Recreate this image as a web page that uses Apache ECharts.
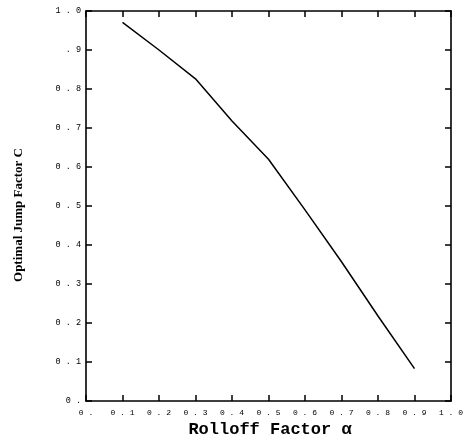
<!DOCTYPE html>
<html>
<head>
<meta charset="utf-8">
<script src="https://cdn.jsdelivr.net/npm/echarts@6/dist/echarts.min.js"></script>
<style>html,body{margin:0;padding:0;background:#fff;}#c{width:466px;height:440px;}</style>
</head>
<body>
<div id="c"></div>
<script>
var rolloff = [0.1, 0.2, 0.3, 0.4, 0.5, 0.6, 0.7, 0.8, 0.9];
var jumpFactor = [0.971, 0.900, 0.826, 0.718, 0.620, 0.490, 0.357, 0.218, 0.083];
var xTickLabels = ['0 .', '0 . 1', '0 . 2', '0 . 3', '0 . 4', '0 . 5', '0 . 6', '0 . 7', '0 . 8', '0 . 9', '1 . 0'];
var yTickLabels = ['0 .', '0 . 1', '0 . 2', '0 . 3', '0 . 4', '0 . 5', '0 . 6', '0 . 7', '0 . 8', '. 9', '1 . 0'];

var chart = echarts.init(document.getElementById('c'));
var axisLine = {show: true, onZero: false, lineStyle: {color: '#000', width: 1.6}};
var tick = {show: true, inside: true, length: 6, lineStyle: {color: '#000', width: 1.5}};
function idx(v){ return Math.round(v * 10); }
chart.setOption({
  animation: false,
  backgroundColor: '#fff',
  grid: {left: 86, right: 11, top: 11, bottom: 39},
  xAxis: [{
    type: 'value', min: 0, max: 1, interval: 0.1, position: 'bottom',
    axisLine: axisLine, axisTick: tick, splitLine: {show: false},
    axisLabel: {margin: 8, color: '#000', fontFamily: 'Liberation Mono', fontSize: 8,
      formatter: function(v){ return xTickLabels[idx(v)]; }}
  }, {
    type: 'value', min: 0, max: 1, interval: 0.1, position: 'top',
    axisLine: axisLine, axisTick: tick, axisLabel: {show: false}, splitLine: {show: false}
  }],
  yAxis: [{
    type: 'value', min: 0, max: 1, interval: 0.1, position: 'left',
    axisLine: axisLine, axisTick: tick, splitLine: {show: false},
    axisLabel: {margin: 5, color: '#000', fontFamily: 'Liberation Mono', fontSize: 8.5,
      formatter: function(v){ return yTickLabels[idx(v)]; }}
  }, {
    type: 'value', min: 0, max: 1, interval: 0.1, position: 'right',
    axisLine: axisLine, axisTick: tick, axisLabel: {show: false}, splitLine: {show: false}
  }],
  graphic: [{
    type: 'text', x: 270, y: 430,
    style: {text: 'Rolloff Factor \u03b1', font: 'bold 17px "Liberation Mono"', fill: '#000',
      align: 'center', verticalAlign: 'middle'}
  }, {
    type: 'text', x: 18.5, y: 215, rotation: Math.PI / 2,
    style: {text: 'Optimal Jump Factor C', font: 'bold 13px "Liberation Serif"', fill: '#000',
      align: 'center', verticalAlign: 'middle'}
  }],
  series: [{
    type: 'line', xAxisIndex: 0, yAxisIndex: 0,
    data: rolloff.map(function(x, i){ return [x, jumpFactor[i]]; }),
    showSymbol: false, smooth: false,
    lineStyle: {color: '#000', width: 1.5}
  }, {
    type: 'line', xAxisIndex: 1, yAxisIndex: 1, data: [], showSymbol: false, silent: true
  }]
});
</script>
</body>
</html>
